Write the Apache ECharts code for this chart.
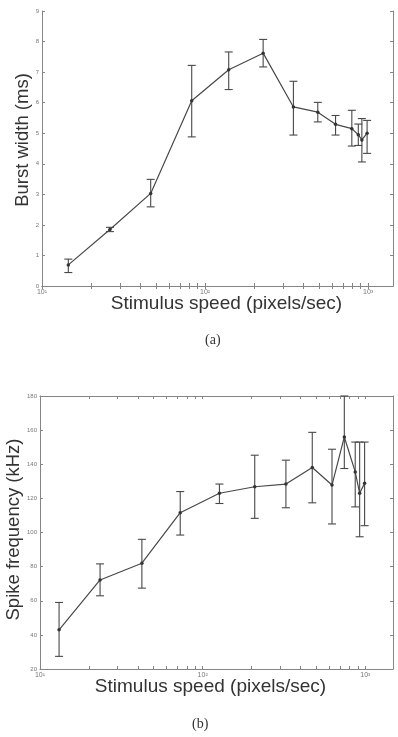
<!DOCTYPE html>
<html>
<head>
<meta charset="utf-8">
<script src="https://cdn.jsdelivr.net/npm/echarts@6/dist/echarts.min.js"></script>
<style>
  html, body { margin: 0; padding: 0; background: #fff; }
  #chart { width: 398px; height: 737px; }
</style>
</head>
<body>
<div id="chart"></div>
<script>
// (a) burst width vs stimulus speed
var speedA = [14.5, 26.1, 46.4, 82.8, 139.6, 227, 348, 491, 631, 794, 870, 915, 985];
var widthA = [0.69, 1.85, 3.03, 6.06, 7.08, 7.62, 5.86, 5.69, 5.29, 5.15, 4.95, 4.78, 5.0];
var widthLowA = [0.44, 1.78, 2.59, 4.88, 6.43, 7.17, 4.94, 5.37, 4.94, 4.58, 4.6, 4.06, 4.34];
var widthHighA = [0.88, 1.92, 3.49, 7.22, 7.66, 8.07, 6.70, 6.01, 5.58, 5.75, 5.3, 5.48, 5.42];

// (b) spike frequency vs stimulus speed
var speedB = [13.1, 23.4, 42.3, 72.8, 126.8, 209, 325, 472, 624, 743, 867, 923, 990];
var freqB = [43, 72.2, 82, 111.6, 123, 126.8, 128.4, 138.1, 127.8, 156, 135.5, 123, 128.8];
var freqLowB = [27.4, 62.9, 67.4, 98.5, 117, 108.3, 114.5, 117.4, 105, 137.5, 115, 97.5, 104];
var freqHighB = [59, 81.6, 96, 124, 128.4, 145.3, 142.4, 158.7, 148.8, 180, 153, 153, 153];

// log axis ticks
var majorX = [10, 100, 1000];
var majorXLabels = ['10\u00b9', '10\u00b2', '10\u00b3'];
var tickX = [10, 20, 30, 40, 50, 60, 70, 80, 90, 100, 200, 300, 400, 500, 600, 700, 800, 900, 1000];

var axisColor = '#858585';
var lineColor = '#484848';
var textColor = '#333';

var chart = echarts.init(document.getElementById('chart'));

function xAxes(gridIndex, max, name, namePad) {
  return [
    {
      type: 'log', logBase: 10, gridIndex: gridIndex, position: 'bottom',
      min: 10, max: max,
      name: name, nameLocation: 'middle', nameGap: 8, nameMoveOverlap: false,
      nameTextStyle: { fontFamily: 'Liberation Sans', fontSize: 19, color: textColor, padding: namePad },
      axisLine: { lineStyle: { color: axisColor, width: 1 } },
      axisTick: { inside: true, length: 3, customValues: tickX, lineStyle: { color: axisColor } },
      axisLabel: {
        customValues: majorX, fontSize: 7, color: '#777', margin: 3,
        formatter: function (v) { return majorXLabels[majorX.indexOf(Math.round(v))] || ''; }
      },
      splitLine: { show: false }, minorTick: { show: false }
    },
    {
      type: 'log', logBase: 10, gridIndex: gridIndex, position: 'top',
      min: 10, max: max,
      axisLine: { lineStyle: { color: axisColor, width: 1 } },
      axisTick: { inside: true, length: 3, customValues: tickX, lineStyle: { color: axisColor } },
      axisLabel: { show: false },
      splitLine: { show: false }
    }
  ];
}

function yAxes(gridIndex, min, max, interval, name, gap, namePad) {
  return [
    {
      type: 'value', gridIndex: gridIndex, position: 'left',
      min: min, max: max, interval: interval,
      name: name, nameLocation: 'middle', nameGap: gap, nameMoveOverlap: false,
      nameTextStyle: { fontFamily: 'Liberation Sans', fontSize: 18.5, color: textColor, padding: namePad },
      axisLine: { show: true, lineStyle: { color: axisColor, width: 1 } },
      axisTick: { show: true, inside: true, length: 3, lineStyle: { color: axisColor } },
      axisLabel: { fontSize: 6, color: '#777', margin: 3 },
      splitLine: { show: false }
    },
    {
      type: 'value', gridIndex: gridIndex, position: 'right',
      min: min, max: max, interval: interval,
      axisLine: { show: true, lineStyle: { color: axisColor, width: 1 } },
      axisTick: { show: true, inside: true, length: 3, lineStyle: { color: axisColor } },
      axisLabel: { show: false },
      splitLine: { show: false }
    }
  ];
}

function errorBars(xs, lows, highs, axisIdx) {
  return {
    type: 'custom',
    xAxisIndex: axisIdx, yAxisIndex: axisIdx,
    data: xs.map(function (x, i) { return [x, lows[i], highs[i]]; }),
    encode: { x: 0, y: [1, 2] },
    silent: true,
    renderItem: function (params, api) {
      var x = api.value(0);
      var lo = api.coord([x, api.value(1)]);
      var hi = api.coord([x, api.value(2)]);
      var w = 4;
      var st = { stroke: lineColor, lineWidth: 1.1 };
      return {
        type: 'group',
        children: [
          { type: 'line', shape: { x1: lo[0], y1: lo[1], x2: hi[0], y2: hi[1] }, style: st },
          { type: 'line', shape: { x1: lo[0] - w, y1: lo[1], x2: lo[0] + w, y2: lo[1] }, style: st },
          { type: 'line', shape: { x1: hi[0] - w, y1: hi[1], x2: hi[0] + w, y2: hi[1] }, style: st }
        ]
      };
    }
  };
}

function meanLine(xs, ys, axisIdx) {
  return {
    type: 'line',
    xAxisIndex: axisIdx, yAxisIndex: axisIdx,
    data: xs.map(function (x, i) { return [x, ys[i]]; }),
    symbol: 'circle', symbolSize: 3.5,
    itemStyle: { color: '#333' },
    lineStyle: { color: lineColor, width: 1.2 },
    animation: false
  };
}

var xa = xAxes(0, 1420, 'Stimulus speed (pixels/sec)', [0, 0, 0, 18]);
var xb = xAxes(1, 1480, 'Stimulus speed (pixels/sec)', [0, 12, 0, 0]);
var ya = yAxes(0, 0, 9, 1, 'Burst width (ms)', 10, [0, 0, 0, 17]);
var yb = yAxes(1, 20, 180, 20, 'Spike frequency (kHz)', 17, [0, 0, 0, 6]);

var option = {
  backgroundColor: '#fff',
  animation: false,
  grid: [
    { left: 42, top: 11, right: 5, height: 275, outerBoundsMode: 'none', containLabel: false },
    { left: 40, top: 396, right: 5, height: 273, outerBoundsMode: 'none', containLabel: false }
  ],
  xAxis: [xa[0], xa[1], xb[0], xb[1]],
  yAxis: [ya[0], ya[1], yb[0], yb[1]],
  series: [
    errorBars(speedA, widthLowA, widthHighA, 0),
    meanLine(speedA, widthA, 0),
    errorBars(speedB, freqLowB, freqHighB, 2),
    meanLine(speedB, freqB, 2)
  ],
  graphic: [
    { type: 'text', left: 205, top: 333, style: { text: '(a)', font: '14px "Liberation Serif"', fill: textColor } },
    { type: 'text', left: 192, top: 717, style: { text: '(b)', font: '14px "Liberation Serif"', fill: textColor } }
  ]
};

chart.setOption(option);
</script>
</body>
</html>
